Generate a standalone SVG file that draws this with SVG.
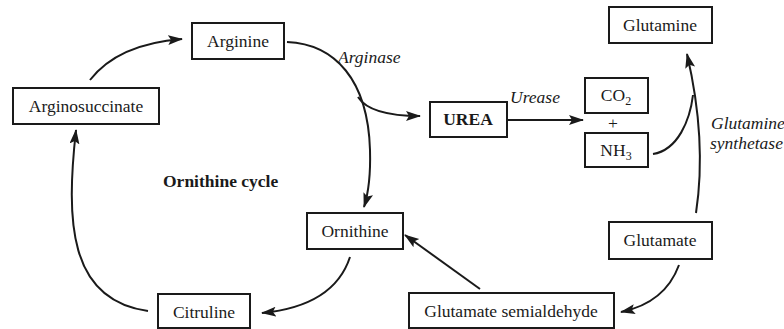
<svg xmlns="http://www.w3.org/2000/svg" width="784" height="329" viewBox="0 0 784 329">
<defs>
<style>
rect.box{fill:#fff;stroke:#1a1a1a;stroke-width:2}
text{font-family:"Liberation Serif","Times New Roman",serif;font-size:17.5px;fill:#1a1a1a}
.c{text-anchor:middle}
.i{font-style:italic}
.b{font-weight:bold}
path.a{fill:none;stroke:#1a1a1a;stroke-width:2}
</style>
<marker id="ah" markerUnits="userSpaceOnUse" markerWidth="16" markerHeight="12" refX="14" refY="5" orient="auto">
<path d="M0,0 L15,5 L0,10 L3,5 Z" fill="#1a1a1a"/>
</marker>
</defs>
<rect width="784" height="329" fill="#fff"/>
<g id="connectors">
<path class="a" d="M90,80 Q118,44 182,39" marker-end="url(#ah)"/>
<path class="a" d="M287,42 C335,44 368,80 370,150 Q371,185 364,207" marker-end="url(#ah)"/>
<path class="a" d="M358,97 Q370,116 420,116" marker-end="url(#ah)"/>
<path class="a" d="M507,120 L583,120" marker-end="url(#ah)"/>
<path class="a" d="M653,154 C678,150 690,120 693,95"/>
<path class="a" d="M696,213 Q707,140 687,54" marker-end="url(#ah)"/>
<path class="a" d="M679,265 Q665,303 621,312" marker-end="url(#ah)"/>
<path class="a" d="M480,289 L405,235" marker-end="url(#ah)"/>
<path class="a" d="M350,257 Q334,306 262,313" marker-end="url(#ah)"/>
<path class="a" d="M148,311 C68,300 66,220 76,130" marker-end="url(#ah)"/>
</g>
<g id="arginine"><rect class="box" x="192" y="23" width="92" height="36"/><text class="c" x="238" y="47">Arginine</text></g>
<g id="arginosuccinate"><rect class="box" x="13" y="88" width="146" height="36"/><text class="c" x="86" y="112">Arginosuccinate</text></g>
<g id="urea"><rect class="box" x="430" y="102" width="77" height="35"/><text class="c b" x="468" y="125">UREA</text></g>
<g id="co2"><rect class="box" x="585" y="78" width="63" height="35"/><text class="c" x="616" y="101">CO<tspan font-size="12" dy="4">2</tspan></text></g>
<text class="c" x="613" y="129">+</text>
<g id="nh3"><rect class="box" x="585" y="133" width="63" height="34"/><text class="c" x="616" y="156">NH<tspan font-size="12" dy="4">3</tspan></text></g>
<g id="glutamine"><rect class="box" x="609" y="7" width="103" height="36"/><text class="c" x="660" y="31">Glutamine</text></g>
<g id="glutamate"><rect class="box" x="609" y="222" width="103" height="37"/><text class="c" x="660" y="246">Glutamate</text></g>
<g id="gsa"><rect class="box" x="409" y="293" width="205" height="35"/><text class="c" x="511" y="317">Glutamate semialdehyde</text></g>
<g id="ornithine"><rect class="box" x="307" y="213" width="96" height="36"/><text class="c" x="355" y="237">Ornithine</text></g>
<g id="citruline"><rect class="box" x="158" y="294" width="92" height="34"/><text class="c" x="204" y="318">Citruline</text></g>
<text class="i" x="338" y="63">Arginase</text>
<text class="i" x="510" y="103">Urease</text>
<text class="i" x="711" y="129">Glutamine</text>
<text class="i" x="710" y="149">synthetase</text>
<text class="b" x="163" y="187">Ornithine cycle</text>
</svg>
